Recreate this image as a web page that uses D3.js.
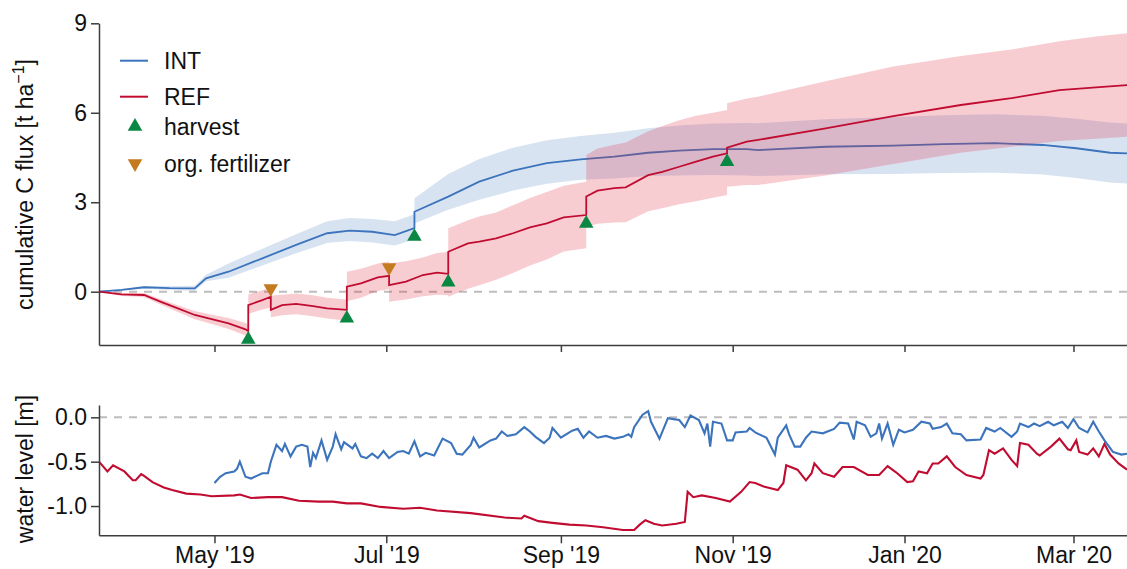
<!DOCTYPE html>
<html>
<head>
<meta charset="utf-8">
<script src="https://cdn.jsdelivr.net/npm/d3@7"></script>
<style>
  html, body { margin: 0; padding: 0; background: #fff; }
  svg { display: block; font-family: "Liberation Sans", Arial, Helvetica, sans-serif; }
</style>
</head>
<body>
<svg id="chart" width="1127" height="569"></svg>
<script>
// ---- cumulative C flux, INT site (mean and uncertainty band) ----
const intDates = ["2019-03-21","2019-03-29","2019-04-06","2019-04-15","2019-04-24","2019-04-28","2019-05-06","2019-05-18","2019-05-30","2019-06-10","2019-06-18","2019-06-26","2019-07-04","2019-07-11","2019-07-11","2019-07-23","2019-08-03","2019-08-15","2019-08-27","2019-09-08","2019-09-20","2019-10-02","2019-10-13","2019-10-25","2019-11-06","2019-11-10","2019-12-04","2019-12-28","2020-01-15","2020-02-02","2020-02-19","2020-03-02","2020-03-14","2020-03-20"];
const intFlux  = [0,0.06,0.15,0.12,0.11,0.45,0.67,1.12,1.57,1.96,2.05,2.01,1.90,2.13,2.68,3.19,3.69,4.06,4.31,4.44,4.53,4.66,4.73,4.78,4.78,4.75,4.86,4.90,4.95,4.98,4.92,4.81,4.66,4.64];
const intLow   = [0,0.04,0.11,0.06,0.03,0.35,0.47,0.88,1.29,1.63,1.70,1.65,1.55,1.75,2.29,2.75,3.08,3.39,3.62,3.75,3.80,3.88,3.90,3.91,3.90,3.88,3.94,3.95,3.98,3.99,3.93,3.81,3.66,3.63];
const intHigh  = [0,0.08,0.19,0.18,0.20,0.57,0.95,1.44,1.93,2.36,2.47,2.44,2.36,2.60,3.13,3.95,4.45,4.83,5.08,5.22,5.33,5.48,5.57,5.64,5.66,5.65,5.78,5.86,5.92,5.95,5.90,5.80,5.67,5.64];

// ---- cumulative C flux, REF site ----
const refDates = ["2019-03-21","2019-03-29","2019-04-06","2019-04-12","2019-04-18","2019-04-24","2019-04-30","2019-05-06","2019-05-12","2019-05-13","2019-05-13","2019-05-18","2019-05-21","2019-05-21","2019-05-25","2019-05-30","2019-06-05","2019-06-10","2019-06-17","2019-06-17","2019-06-22","2019-06-28","2019-07-02","2019-07-02","2019-07-08","2019-07-14","2019-07-19","2019-07-23","2019-07-23","2019-07-30","2019-08-03","2019-08-09","2019-08-15","2019-08-21","2019-08-27","2019-09-02","2019-09-10","2019-09-10","2019-09-14","2019-09-20","2019-09-24","2019-10-02","2019-10-07","2019-10-13","2019-10-19","2019-10-25","2019-10-30","2019-10-30","2019-11-06","2019-11-10","2019-12-04","2019-12-28","2020-01-21","2020-02-08","2020-02-25","2020-03-09","2020-03-20"];
const refFlux  = [0,-0.09,-0.11,-0.34,-0.56,-0.78,-0.92,-1.06,-1.26,-1.32,-0.45,-0.28,-0.17,-0.61,-0.45,-0.41,-0.48,-0.56,-0.61,0.17,0.28,0.48,0.53,0.22,0.34,0.56,0.64,0.60,1.34,1.62,1.68,1.79,1.96,2.16,2.29,2.49,2.57,3.19,3.39,3.47,3.50,3.91,4.02,4.19,4.36,4.53,4.64,4.83,5.03,5.09,5.48,5.89,6.26,6.49,6.76,6.85,6.93];
const refLow   = [0,-0.14,-0.18,-0.44,-0.68,-0.92,-1.08,-1.25,-1.47,-1.53,-0.74,-0.60,-0.53,-0.86,-0.79,-0.76,-0.82,-0.90,-0.97,-0.32,-0.20,0.02,0.08,-0.34,-0.26,-0.15,-0.10,-0.12,-0.17,0.10,0.22,0.40,0.63,0.88,1.08,1.35,1.46,2.18,2.28,2.32,2.33,2.70,2.80,2.93,3.03,3.15,3.24,3.52,3.58,3.58,3.90,4.28,4.66,4.86,5.05,5.13,5.20];
const refHigh  = [0,-0.04,-0.04,-0.25,-0.45,-0.65,-0.77,-0.88,-1.05,-1.10,-0.09,0.05,0.13,-0.13,-0.10,-0.06,-0.12,-0.20,-0.26,0.67,0.77,0.95,1.01,0.95,1.02,1.15,1.30,1.34,2.13,2.40,2.52,2.66,2.90,3.14,3.34,3.55,3.69,4.58,4.80,4.93,5.00,5.38,5.56,5.75,5.90,6.00,6.09,6.32,6.48,6.54,7.06,7.55,7.90,8.12,8.40,8.56,8.67];

// ---- management events (flux value at the moment of the event) ----
const harvestDates = ["2019-05-13","2019-06-17","2019-07-11","2019-07-23","2019-09-10","2019-10-30"];
const harvestFlux  = [-1.32,-0.61,2.13,0.60,2.57,4.64];
const fertDates    = ["2019-05-21","2019-07-02"];
const fertFlux     = [-0.17,0.53];

// ---- water level [m] ----
const levelIntDates = ["2019-05-01","2019-05-03","2019-05-05","2019-05-08","2019-05-09","2019-05-10","2019-05-12","2019-05-14","2019-05-16","2019-05-18","2019-05-20","2019-05-21","2019-05-23","2019-05-25","2019-05-26","2019-05-28","2019-05-30","2019-06-01","2019-06-03","2019-06-04","2019-06-05","2019-06-06","2019-06-08","2019-06-10","2019-06-12","2019-06-13","2019-06-15","2019-06-16","2019-06-19","2019-06-20","2019-06-22","2019-06-24","2019-06-26","2019-06-28","2019-06-30","2019-07-02","2019-07-05","2019-07-07","2019-07-09","2019-07-11","2019-07-13","2019-07-15","2019-07-18","2019-07-21","2019-07-24","2019-07-26","2019-07-28","2019-07-31","2019-08-01","2019-08-03","2019-08-07","2019-08-09","2019-08-11","2019-08-13","2019-08-16","2019-08-19","2019-08-21","2019-08-23","2019-08-26","2019-08-28","2019-08-29","2019-09-01","2019-09-03","2019-09-05","2019-09-07","2019-09-09","2019-09-11","2019-09-14","2019-09-17","2019-09-20","2019-09-23","2019-09-25","2019-09-26","2019-09-27","2019-09-30","2019-10-02","2019-10-03","2019-10-06","2019-10-09","2019-10-11","2019-10-13","2019-10-15","2019-10-17","2019-10-20","2019-10-22","2019-10-23","2019-10-24","2019-10-25","2019-10-28","2019-10-30","2019-11-01","2019-11-02","2019-11-06","2019-11-07","2019-11-09","2019-11-13","2019-11-16","2019-11-17","2019-11-20","2019-11-21","2019-11-23","2019-11-25","2019-11-27","2019-11-29","2019-12-03","2019-12-07","2019-12-09","2019-12-12","2019-12-14","2019-12-15","2019-12-18","2019-12-20","2019-12-22","2019-12-23","2019-12-24","2019-12-26","2019-12-28","2019-12-30","2020-01-01","2020-01-04","2020-01-07","2020-01-10","2020-01-11","2020-01-14","2020-01-16","2020-01-18","2020-01-21","2020-01-23","2020-01-28","2020-01-30","2020-02-02","2020-02-04","2020-02-08","2020-02-10","2020-02-11","2020-02-14","2020-02-16","2020-02-18","2020-02-21","2020-02-23","2020-02-26","2020-02-28","2020-03-01","2020-03-03","2020-03-06","2020-03-08","2020-03-10","2020-03-12","2020-03-15","2020-03-18","2020-03-20"];
const levelInt = [-0.74,-0.67,-0.63,-0.61,-0.58,-0.50,-0.67,-0.69,-0.66,-0.63,-0.63,-0.50,-0.31,-0.38,-0.30,-0.44,-0.33,-0.31,-0.33,-0.56,-0.40,-0.46,-0.26,-0.48,-0.33,-0.19,-0.36,-0.28,-0.35,-0.30,-0.44,-0.46,-0.41,-0.46,-0.38,-0.46,-0.39,-0.38,-0.41,-0.27,-0.44,-0.40,-0.43,-0.24,-0.29,-0.41,-0.42,-0.31,-0.23,-0.34,-0.26,-0.24,-0.16,-0.21,-0.19,-0.11,-0.16,-0.22,-0.29,-0.23,-0.12,-0.23,-0.19,-0.15,-0.13,-0.23,-0.16,-0.23,-0.21,-0.24,-0.22,-0.19,-0.22,-0.11,0.03,0.07,-0.05,-0.24,-0.01,-0.02,-0.03,-0.11,0.02,-0.03,-0.18,-0.07,-0.33,-0.05,-0.07,-0.26,-0.26,-0.17,-0.16,-0.12,-0.17,-0.23,-0.42,-0.23,-0.09,-0.19,-0.33,-0.33,-0.23,-0.16,-0.18,-0.13,-0.06,-0.07,-0.25,-0.05,-0.09,-0.22,-0.18,-0.07,-0.24,-0.07,-0.31,-0.14,-0.17,-0.14,-0.05,-0.07,-0.13,-0.11,-0.07,-0.18,-0.19,-0.26,-0.25,-0.12,-0.16,-0.12,-0.22,-0.16,-0.07,-0.11,-0.07,-0.10,-0.05,-0.09,-0.05,-0.12,-0.02,-0.12,-0.17,-0.05,-0.16,-0.26,-0.39,-0.42,-0.41];

const levelRefDates = ["2019-03-21","2019-03-24","2019-03-26","2019-03-30","2019-04-02","2019-04-03","2019-04-05","2019-04-06","2019-04-09","2019-04-13","2019-04-16","2019-04-21","2019-04-26","2019-04-30","2019-05-08","2019-05-10","2019-05-14","2019-05-20","2019-05-25","2019-05-31","2019-06-07","2019-06-12","2019-06-17","2019-06-22","2019-06-29","2019-07-07","2019-07-13","2019-07-19","2019-07-31","2019-08-12","2019-08-18","2019-08-19","2019-08-24","2019-08-29","2019-09-04","2019-09-10","2019-09-16","2019-09-23","2019-09-27","2019-09-29","2019-10-01","2019-10-04","2019-10-07","2019-10-12","2019-10-15","2019-10-16","2019-10-18","2019-10-21","2019-10-26","2019-10-31","2019-11-04","2019-11-07","2019-11-09","2019-11-12","2019-11-17","2019-11-19","2019-11-20","2019-11-24","2019-11-27","2019-11-29","2019-11-30","2019-12-03","2019-12-07","2019-12-10","2019-12-14","2019-12-19","2019-12-23","2019-12-26","2019-12-29","2020-01-02","2020-01-04","2020-01-06","2020-01-09","2020-01-11","2020-01-13","2020-01-16","2020-01-19","2020-01-23","2020-01-28","2020-01-29","2020-01-31","2020-02-02","2020-02-05","2020-02-08","2020-02-10","2020-02-11","2020-02-14","2020-02-17","2020-02-18","2020-02-22","2020-02-25","2020-02-28","2020-02-29","2020-03-02","2020-03-03","2020-03-06","2020-03-08","2020-03-10","2020-03-12","2020-03-14","2020-03-17","2020-03-20"];
const levelRef = [-0.50,-0.61,-0.54,-0.61,-0.71,-0.71,-0.64,-0.66,-0.73,-0.79,-0.82,-0.86,-0.87,-0.89,-0.88,-0.87,-0.91,-0.90,-0.90,-0.94,-0.95,-0.95,-0.97,-0.97,-1.01,-1.03,-1.02,-1.05,-1.08,-1.13,-1.14,-1.11,-1.17,-1.19,-1.21,-1.22,-1.24,-1.27,-1.27,-1.21,-1.16,-1.20,-1.22,-1.20,-1.18,-0.84,-0.90,-0.88,-0.91,-0.95,-0.84,-0.73,-0.74,-0.78,-0.82,-0.74,-0.54,-0.59,-0.71,-0.63,-0.52,-0.63,-0.67,-0.56,-0.56,-0.65,-0.65,-0.55,-0.62,-0.73,-0.72,-0.61,-0.63,-0.52,-0.52,-0.44,-0.56,-0.65,-0.69,-0.65,-0.37,-0.41,-0.35,-0.48,-0.55,-0.29,-0.31,-0.41,-0.43,-0.33,-0.24,-0.36,-0.37,-0.26,-0.39,-0.42,-0.35,-0.44,-0.30,-0.42,-0.52,-0.59];

// ---- axes ----
const timeTickDates  = ["2019-05-01","2019-07-01","2019-09-01","2019-11-01","2020-01-01","2020-03-01"];
const timeTickLabels = ["May '19","Jul '19","Sep '19","Nov '19","Jan '20","Mar '20"];
const fluxTicks  = [0, 3, 6, 9];
const levelTicks = [0, -0.5, -1.0];
const legendLabels = ["INT", "REF", "harvest", "org. fertilizer"];

// ---- drawing ----
const FONT = "23px";
const parse = d3.utcParse("%Y-%m-%d");
const col = { int: "#3b74bc", ref: "#c10c31", harvest: "#0a8742", fert: "#c47b20",
              axis: "#3d3d3d", text: "#111", zero: "#bdbdbd" };
const svg = d3.select("#chart");

const x = d3.scaleUtc()
  .domain([parse("2019-03-21"), parse("2020-03-20")])
  .range([99, 1127]);
const yFlux = d3.scaleLinear().domain([-1.787, 9]).range([345, 23.3]);
const yLevel = d3.scaleLinear().domain([-1.33, 0.139]).range([535.3, 405]);

const zip = (dates, ...cols) => dates.map((d, i) => ({ t: parse(d), v: cols.map(c => c[i]) }));
const intRows = zip(intDates, intFlux, intLow, intHigh);
const refRows = zip(refDates, refFlux, refLow, refHigh);

// zero reference lines
[[yFlux, 0], [yLevel, 0]].forEach(([s, v]) => {
  svg.append("line")
    .attr("x1", x.range()[0]).attr("x2", x.range()[1])
    .attr("y1", s(v)).attr("y2", s(v))
    .attr("stroke", col.zero).attr("stroke-width", 2)
    .attr("stroke-dasharray", "8,7");
});

const band = (s) => d3.area().x(d => x(d.t)).y0(d => s(d.v[1])).y1(d => s(d.v[2]));
const mean = (s) => d3.line().x(d => x(d.t)).y(d => s(d.v[0]));

// INT band + line, then REF band + line on top
svg.append("path").datum(intRows).attr("d", band(yFlux))
  .attr("fill", col.int).attr("fill-opacity", 0.2);
svg.append("path").datum(intRows).attr("d", mean(yFlux))
  .attr("fill", "none").attr("stroke", col.int).attr("stroke-width", 1.8);
svg.append("path").datum(refRows).attr("d", band(yFlux))
  .attr("fill", "#e1283d").attr("fill-opacity", 0.23);
svg.append("path").datum(refRows).attr("d", mean(yFlux))
  .attr("fill", "none").attr("stroke", col.ref).attr("stroke-width", 1.8);

// event markers: triangle tip sits on the flux value
const triSize = 92;
const tri = d3.symbol().type(d3.symbolTriangle).size(triSize);
const tipOffset = Math.sqrt(triSize / (Math.sqrt(3) * 3)) * 2;
svg.append("g").selectAll("path")
  .data(harvestDates.map((d, i) => ({ t: parse(d), v: harvestFlux[i] })))
  .join("path")
  .attr("d", tri)
  .attr("transform", d => `translate(${x(d.t)},${yFlux(d.v) + tipOffset})`)
  .attr("fill", col.harvest);
svg.append("g").selectAll("path")
  .data(fertDates.map((d, i) => ({ t: parse(d), v: fertFlux[i] })))
  .join("path")
  .attr("d", tri)
  .attr("transform", d => `translate(${x(d.t)},${yFlux(d.v) - tipOffset}) rotate(180)`)
  .attr("fill", col.fert);

// water level lines
const lvlLine = d3.line().x(d => x(d.t)).y(d => yLevel(d.v[0]));
svg.append("path").datum(zip(levelRefDates, levelRef)).attr("d", lvlLine)
  .attr("fill", "none").attr("stroke", col.ref).attr("stroke-width", 2.1);
svg.append("path").datum(zip(levelIntDates, levelInt)).attr("d", lvlLine)
  .attr("fill", "none").attr("stroke", col.int).attr("stroke-width", 2.1);

// axes
function styleAxis(g) {
  g.selectAll(".domain").attr("stroke", col.axis).attr("stroke-width", 1.5);
  g.selectAll(".tick line").attr("stroke", col.axis).attr("stroke-width", 1.5);
  g.selectAll(".tick text").attr("fill", col.text).style("font-size", FONT)
    .style("font-family", '"Liberation Sans", Arial, sans-serif');
}
const tickTimes = timeTickDates.map(parse);
const minus = d => d3.format(".1f")(d).replace("\u2212", "-");

svg.append("g").attr("transform", "translate(99,0)")
  .call(d3.axisLeft(yFlux).tickValues(fluxTicks).tickSize(8).tickPadding(4).tickSizeOuter(0))
  .call(styleAxis);
svg.append("g").attr("transform", "translate(0,345)")
  .call(d3.axisBottom(x).tickValues(tickTimes).tickFormat("").tickSize(7).tickSizeOuter(0))
  .call(styleAxis);
svg.append("g").attr("transform", "translate(99,0)")
  .call(d3.axisLeft(yLevel).tickValues(levelTicks).tickFormat(minus).tickSize(8).tickPadding(4).tickSizeOuter(0))
  .call(styleAxis);
svg.append("g").attr("transform", "translate(0,535.3)")
  .call(d3.axisBottom(x).tickValues(tickTimes)
    .tickFormat((d, i) => timeTickLabels[i]).tickSize(8).tickPadding(3).tickSizeOuter(0))
  .call(styleAxis);

// axis titles
const fluxTitle = svg.append("text")
  .attr("transform", "translate(33,184.5) rotate(-90)")
  .attr("text-anchor", "middle").attr("fill", col.text).style("font-size", FONT);
fluxTitle.append("tspan").text("cumulative C flux [t ha");
fluxTitle.append("tspan").attr("dy", -9).style("font-size", "16px").text("\u22121");
fluxTitle.append("tspan").attr("dy", 9).text("]");

svg.append("text")
  .attr("transform", "translate(33,469) rotate(-90)")
  .attr("text-anchor", "middle").attr("fill", col.text).style("font-size", FONT)
  .text("water level [m]");

// legend
const legendY = [60.7, 96.7, 126.5, 163.5];
const legend = svg.append("g");
legend.selectAll("text").data(legendLabels).join("text")
  .attr("x", 164).attr("y", (d, i) => legendY[i]).attr("dy", "0.35em")
  .attr("fill", col.text).style("font-size", FONT).text(d => d);
[col.int, col.ref].forEach((c, i) => {
  legend.append("line").attr("x1", 120).attr("x2", 148)
    .attr("y1", legendY[i]).attr("y2", legendY[i])
    .attr("stroke", c).attr("stroke-width", 2);
});
legend.append("path").attr("d", tri)
  .attr("transform", `translate(135,${legendY[2]})`).attr("fill", col.harvest);
legend.append("path").attr("d", tri)
  .attr("transform", `translate(135,${legendY[3]}) rotate(180)`).attr("fill", col.fert);
</script>
</body>
</html>
